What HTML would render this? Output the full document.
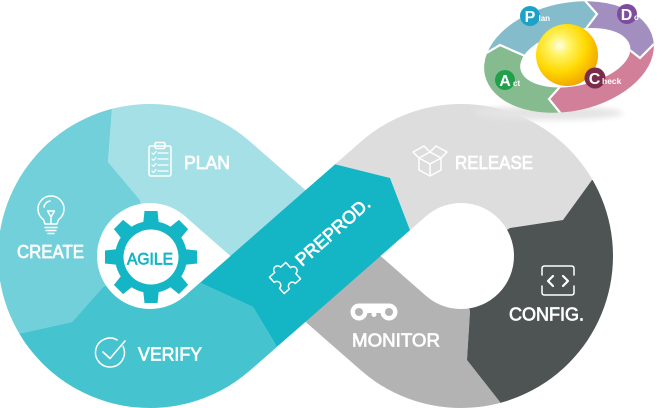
<!DOCTYPE html>
<html><head><meta charset="utf-8"><style>
html,body{margin:0;padding:0;background:#fff;}
svg{display:block;}
text{font-family:"Liberation Sans",sans-serif;}
</style></head><body>
<svg width="662" height="408" viewBox="0 0 662 408" xmlns="http://www.w3.org/2000/svg">
<defs>
<clipPath id="rib">
<circle cx="150" cy="256" r="152"/>
<circle cx="461" cy="256" r="152"/>
<polygon points="250.2,141.7 426.1,295.9 360.8,370.3 184.9,216.1"/>
<polygon points="184.9,295.9 360.8,141.7 426.1,216.1 250.2,370.3"/>
</clipPath>
<clipPath id="ring" clip-rule="evenodd">
<path clip-rule="evenodd" transform="translate(569,57) rotate(-12)" d="M-86,0 A86,54 0 1,0 86,0 A86,54 0 1,0 -86,0 Z M-50,2 A56,28 0 1,0 62,2 A56,28 0 1,0 -50,2 Z"/>
</clipPath>
<radialGradient id="sph" cx="0.38" cy="0.35" r="0.7">
<stop offset="0" stop-color="#fffde8"/>
<stop offset="0.22" stop-color="#fff46a"/>
<stop offset="0.6" stop-color="#ffd900"/>
<stop offset="1" stop-color="#f0a000"/>
</radialGradient>
<filter id="blur" x="-20%" y="-100%" width="140%" height="300%"><feGaussianBlur stdDeviation="3"/></filter>
</defs>

<!-- Infinity ribbon -->
<g clip-path="url(#rib)">
<polygon fill="#a4e0e6" points="150,256 140,200 108,162 112,108 112,60 320,60 320,256"/>
<polygon fill="#b3b3b3" points="461,256 470,312 467,360 500,402 500,420 290,420 290,256"/>
<polygon fill="#72d0da" points="150,256 103,287 72,322 22,333 -10,336 -10,60 112,60 112,108 108,162 140,200"/>
<polygon fill="#45c3ce" points="150,256 200,282.7 253,307 277,346.9 290,420 -10,420 -10,336 22,333 72,322 103,287"/>
<polygon fill="#dcdddc" points="461,256 410,230.2 390,178 335,164.3 335,40 600,40 592,180 563,220 510,228"/>
<polygon fill="#4e5454" points="461,256 510,228 563,220 592,180 700,180 700,420 500,420 500,402 467,360 470,312"/>
<polygon fill="#14b5c4" points="200,282.7 335,164.3 390,178 410,230.2 277,346.9 253,307"/>
<!-- holes -->
<circle cx="150" cy="256" r="53" fill="#fff"/>
<polygon fill="#fff" points="184.9,216.1 230.4,256 184.9,295.9 150,256"/>
<circle cx="461" cy="256" r="53" fill="#fff"/>
<polygon fill="#fff" points="426.1,216.1 380.6,256 426.1,295.9 461,256"/>
</g>

<!-- Gear -->
<g transform="translate(151,257)" fill="#14b5c4">
<circle r="36"/>
<polygon points="-8,-32 8,-32 6.5,-46 -6.5,-46"/>
<polygon transform="rotate(45)" points="-8,-32 8,-32 6.5,-46 -6.5,-46"/>
<polygon transform="rotate(90)" points="-8,-32 8,-32 6.5,-46 -6.5,-46"/>
<polygon transform="rotate(135)" points="-8,-32 8,-32 6.5,-46 -6.5,-46"/>
<polygon transform="rotate(180)" points="-8,-32 8,-32 6.5,-46 -6.5,-46"/>
<polygon transform="rotate(225)" points="-8,-32 8,-32 6.5,-46 -6.5,-46"/>
<polygon transform="rotate(270)" points="-8,-32 8,-32 6.5,-46 -6.5,-46"/>
<polygon transform="rotate(315)" points="-8,-32 8,-32 6.5,-46 -6.5,-46"/>
<circle r="27.5" fill="#fff"/>
</g>
<text x="127" y="264.5" font-size="17" fill="#14b5c4" textLength="46" lengthAdjust="spacingAndGlyphs" stroke="#14b5c4" stroke-width="0.7">AGILE</text>

<!-- Labels -->
<g fill="#fff" stroke="#fff" stroke-width="0.7" font-size="18">
<text x="184" y="169" textLength="46" lengthAdjust="spacingAndGlyphs">PLAN</text>
<text x="17" y="258" textLength="67" lengthAdjust="spacingAndGlyphs">CREATE</text>
<text x="138" y="360.5" textLength="64" lengthAdjust="spacingAndGlyphs">VERIFY</text>
<text x="455" y="169" textLength="78" lengthAdjust="spacingAndGlyphs">RELEASE</text>
<text x="509" y="320.5" textLength="75" lengthAdjust="spacingAndGlyphs">CONFIG.</text>
<text x="352" y="346.5" textLength="88" lengthAdjust="spacingAndGlyphs">MONITOR</text>
<text transform="translate(302,267) rotate(-41.5)" x="0" y="0" textLength="93" lengthAdjust="spacingAndGlyphs">PREPROD.</text>
</g>

<!-- Icons -->
<g fill="none" stroke="#fff" stroke-width="1.5" stroke-linejoin="round" stroke-linecap="round">
<!-- clipboard -->
<rect x="149" y="146" width="22" height="30" rx="2"/>
<rect x="155" y="142.5" width="10" height="6" rx="1.5"/>
<path d="M152,153 l1.5,1.5 l2.5,-3 M158,153 H168 M152,159 l1.5,1.5 l2.5,-3 M158,159 H168 M152,165 l1.5,1.5 l2.5,-3 M158,165 H168 M152,171 l1.5,1.5 l2.5,-3 M158,171 H168" stroke-width="1.2"/>
<!-- bulb -->
<path d="M43.5,219.6 A13,13 0 1,1 58.5,219.6 L57,224 L45,224 Z"/>
<path d="M45,227.5 H57 M46,230.5 H56 M48,233.5 H54"/>
<path d="M47.5,211 L54.5,211 L51,217 Z M51,217 V224"/>
<path d="M44,207 A7,7 0 0 1 50,201"/>
<!-- verify -->
<path d="M123.1,346.4 A14.5,14.5 0 1,1 117.25,340"/>
<path d="M103,352 L110,358.5 L125,341" stroke-width="1.7"/>
<!-- box -->
<path d="M419,158 L430,152 L441,158 L430,164 Z M419,158 V170 L430,176 L441,170 V158 M430,164 V176 M419,158 L413,152 L424,146 L430,152 M441,158 L447,152 L436,146 L430,152"/>
<!-- config -->
<path d="M542,275 V268.5 Q542,266 544.5,266 H571.5 Q574,266 574,268.5 V275 M542,286 V292.5 Q542,295 544.5,295 H571.5 Q574,295 574,292.5 V286"/>
<path d="M553,276 L548,281 L553,286 M563,276 L568,281 L563,286" stroke-width="2.2"/>
<!-- puzzle -->
<path transform="translate(285,278) rotate(-42)" d="M-11,-11 L-4,-11 A4,4 0 1,1 4,-11 L11,-11 L11,-4 A4,4 0 1,1 11,4 L11,11 L4,11 A4,4 0 1,0 -4,11 L-11,11 L-11,4 A4,4 0 1,0 -11,-4 Z"/>
</g>
<!-- monitor -->
<g>
<rect x="359" y="303.5" width="30" height="9.5" fill="#fff"/>
<circle cx="359" cy="312" r="8.5" fill="#fff"/>
<circle cx="389" cy="312" r="8.5" fill="#fff"/>
<circle cx="359" cy="312" r="4" fill="#b3b3b3"/>
<circle cx="389" cy="312" r="4" fill="#b3b3b3"/>
<circle cx="374" cy="314.5" r="2.5" fill="#fff"/>
</g>

<!-- PDCA -->
<ellipse cx="548" cy="113" rx="75" ry="7" fill="#e4e4e4" filter="url(#blur)"/>
<g clip-path="url(#ring)">
<polygon fill="#84bccb" points="570,57 525,56 500,45 478,58 420,60 420,-80 585,-80 585,-60 580,-5 597,14 582,34"/>
<polygon fill="#a28fc0" points="570,57 582,34 597,14 580,-5 585,-60 585,-80 720,-80 720,30 660,38 640,58 622,44"/>
<polygon fill="#d2809a" points="570,57 622,44 640,58 660,38 720,30 720,180 566,180 566,120 549,99 566,80"/>
<polygon fill="#85bb8f" points="570,57 566,80 549,99 566,120 566,180 420,180 420,60 478,58 500,45 525,56"/>
<g fill="none" stroke="#fff" stroke-width="2.2" stroke-linejoin="miter">
<polyline points="525,56 500,45 478,58"/>
<polyline points="582,34 597,14 580,-5"/>
<polyline points="622,44 640,58 660,38"/>
<polyline points="566,80 549,99 566,120"/>
</g>
</g>
<circle cx="567" cy="55" r="31" fill="url(#sph)"/>
<g font-weight="bold" fill="#fff">
<circle cx="530" cy="16" r="10" fill="#1da2c7"/>
<text x="530" y="22" font-size="16" text-anchor="middle">P</text>
<text x="538.5" y="21" font-size="8">lan</text>
<circle cx="627" cy="14" r="10" fill="#7c4d9f"/>
<text x="626.5" y="20" font-size="16" text-anchor="middle">D</text>
<text x="634" y="20" font-size="8">o</text>
<circle cx="505" cy="80" r="10" fill="#21a04c"/>
<text x="505" y="86" font-size="16" text-anchor="middle">A</text>
<text x="513" y="86" font-size="8">ct</text>
<circle cx="595" cy="78" r="10.5" fill="#7a2d4b"/>
<text x="594.5" y="84" font-size="16" text-anchor="middle">C</text>
<text x="602" y="84" font-size="8.5">heck</text>
</g>
</svg>
</body></html>
